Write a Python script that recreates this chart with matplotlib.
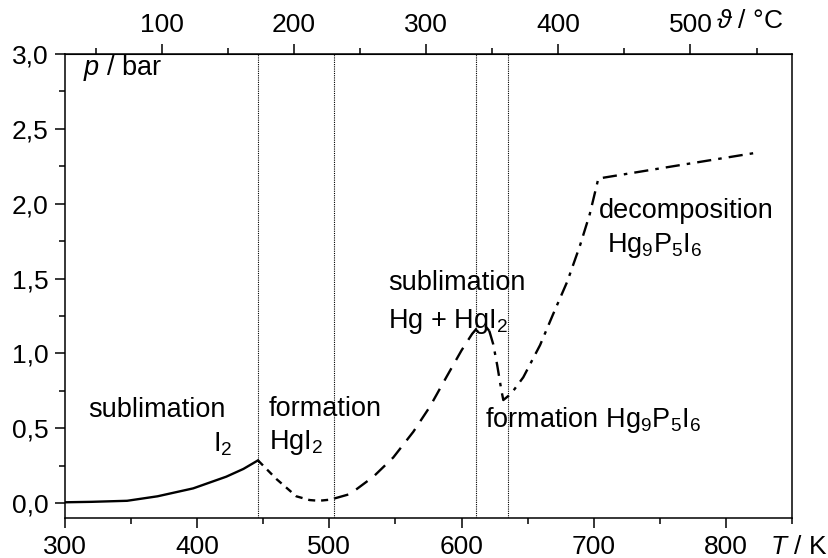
import numpy as np
import matplotlib
matplotlib.use("Agg")
import matplotlib.pyplot as plt
from matplotlib.ticker import MultipleLocator, FuncFormatter

plt.rcParams['font.family'] = ['Liberation Sans', 'DejaVu Sans']
plt.rcParams['mathtext.fontset'] = 'custom'
plt.rcParams['mathtext.rm'] = 'Liberation Sans'
plt.rcParams['mathtext.it'] = 'Liberation Sans:italic'

# pressure curve, split by reaction region (T in K, p in bar)
T_solid = [300, 320, 347, 370, 397, 422, 435, 446]
p_solid = [0.005, 0.008, 0.015, 0.045, 0.098, 0.176, 0.228, 0.285]

T_short = [446, 460, 475, 485, 492, 500, 504]
p_short = [0.285, 0.16, 0.045, 0.02, 0.015, 0.022, 0.031]

T_dash = [504, 515.6, 533.3, 548.4, 563.5, 576, 588.7, 600, 608, 612, 615, 618, 621]
p_dash = [0.031, 0.06, 0.176, 0.305, 0.476, 0.643, 0.844, 1.02, 1.13, 1.172, 1.19, 1.182, 1.15]

T_dd = [621, 624, 627, 630, 631.6, 636, 640, 646.7, 659.4, 669, 680, 689.6, 697, 703.5, 760, 822.8]
p_dd = [1.15, 1.06, 0.92, 0.76, 0.688, 0.72, 0.76, 0.84, 1.055, 1.256, 1.48, 1.72, 1.93, 2.168, 2.25, 2.34]

T_borders = [446, 503.6, 610.7, 635]

fs = 19
fs_txt = 19.5

fig = plt.figure(figsize=(8.29, 5.58), dpi=100)
ax = fig.add_axes([65 / 829, 1 - 518 / 558, 727 / 829, 464 / 558])

lw = 1.7
ax.plot(T_solid, p_solid, color='black', lw=lw, ls='-')
ax.plot(T_short, p_short, color='black', lw=lw, ls=(0, (3, 2.5)))
ax.plot(T_dash, p_dash, color='black', lw=lw, ls=(0, (6, 4)))
ax.plot(T_dd, p_dd, color='black', lw=lw, ls=(0, (6, 3, 1.5, 3)))

for t in T_borders:
    ax.axvline(t, color='black', lw=0.8, ls=(0, (1, 1)))

ax.set_xlim(300, 850)
ax.set_ylim(-0.1, 3.0)

ax.xaxis.set_major_locator(MultipleLocator(100))
ax.xaxis.set_minor_locator(MultipleLocator(50))
ax.yaxis.set_major_locator(MultipleLocator(0.5))
ax.yaxis.set_minor_locator(MultipleLocator(0.25))
ax.yaxis.set_major_formatter(FuncFormatter(lambda v, pos: f"{v:.1f}".replace('.', ',')))
ax.set_xticks([t for t in range(300, 851, 100) if t <= 800])

ax.tick_params(which='both', direction='out', width=1.1, labelsize=fs,
               top=False, right=False)
ax.tick_params(which='major', length=7, pad=5)
ax.tick_params(which='minor', length=4)
for s in ax.spines.values():
    s.set_linewidth(1.1)

sec = ax.secondary_xaxis('top', functions=(lambda t: t - 273.15, lambda c: c + 273.15))
sec.set_xticks([100, 200, 300, 400, 500])
sec.xaxis.set_minor_locator(MultipleLocator(50))
sec.tick_params(which='both', direction='out', width=1.1, labelsize=fs)
sec.tick_params(which='major', length=7, pad=5)
sec.tick_params(which='minor', length=4)

# axis labels at the ends of the axes
fig.text(827 / 829, 1 - 547 / 558, r"$T$ / K", fontsize=fs, ha='right', va='center')
ax.text(0.895, 1.045, r"$\vartheta$ / °C", transform=ax.transAxes, fontsize=fs,
        ha='left', va='bottom')
ax.text(313.9, 2.905, r"$p$ / bar", fontsize=fs_txt, ha='left', va='center')

# region annotations
ax.text(317.4, 0.577, "sublimation", fontsize=fs_txt, ha='left', va='baseline')
ax.text(412, 0.343, r"I$_2$", fontsize=fs_txt, ha='left', va='baseline')
ax.text(454.3, 0.583, "formation", fontsize=fs_txt, ha='left', va='baseline')
ax.text(454.3, 0.361, r"HgI$_2$", fontsize=fs_txt, ha='left', va='baseline')
ax.text(544.4, 1.423, "sublimation", fontsize=fs_txt, ha='left', va='baseline')
ax.text(544.4, 1.169, r"Hg + HgI$_2$", fontsize=fs_txt, ha='left', va='baseline')
ax.text(617.7, 0.506, r"formation Hg$_9$P$_5$I$_6$", fontsize=fs_txt, ha='left', va='baseline')
ax.text(704, 1.902, "decomposition", fontsize=fs_txt, ha='left', va='baseline')
ax.text(710, 1.679, r"Hg$_9$P$_5$I$_6$", fontsize=fs_txt, ha='left', va='baseline')

fig.savefig("out.png", dpi=100)
